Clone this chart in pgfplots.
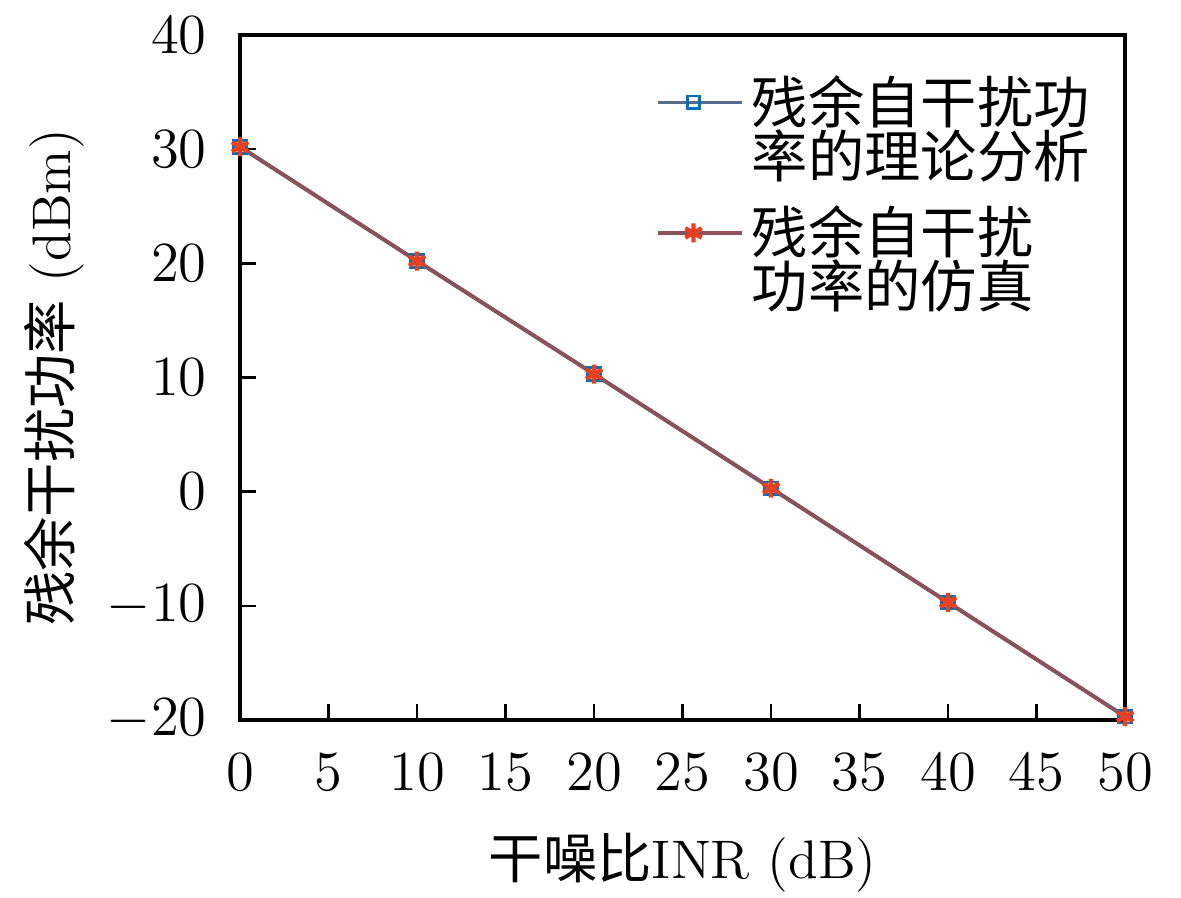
\documentclass[border=0pt]{standalone}
\usepackage{fontspec}
\usepackage{pgfplots}
\pgfplotsset{compat=1.18}
\newfontfamily\cjk{Noto Sans CJK SC}
\definecolor{mblue}{rgb}{0,0.447,0.741}
\definecolor{mred}{rgb}{0.90,0.25,0.12}
\definecolor{lineA}{rgb}{0.35,0.42,0.55}
\definecolor{lineB}{rgb}{0.55,0.32,0.36}
\newcommand{\fs}{\fontsize{13.8}{14}\selectfont}
\newcommand{\lfs}{\fontsize{14.3}{14.5}\selectfont}
\begin{document}
\begin{tikzpicture}
\begin{axis}[
  name=ax,
  scale only axis,
  width=224.8pt, height=174pt,
  xmin=0, xmax=50, ymin=-20, ymax=40,
  xtick={0,5,...,50}, ytick={-20,-10,...,40},
  tick pos=left, tick align=inside,
  major tick length=4pt,
  axis line style={line width=0.9pt},
  every tick/.style={line width=0.6pt},
  tick label style={font=\fs},
  xticklabel style={yshift=-5pt},
  yticklabel style={xshift=-5pt},
  xlabel={{\cjk 干噪比}INR (dB)},
  ylabel={{\cjk 残余干扰功率} (dBm)},
  label style={font=\fs},
  xlabel style={yshift=-4pt},
  ylabel style={yshift=-1pt},
  legend style={draw=none, fill=none, at={(0.983,0.965)}, anchor=north east,
    font=\lfs, row sep=15.5pt},
  legend cell align=left,
  legend image code/.code={\draw[#1] (0pt,0pt) -- (9pt,0pt) plot coordinates {(9pt,0pt)} -- (18pt,0pt);\path (18pt,0pt) -- (21.3pt,0pt);},
]
\addplot[color=lineA, line width=0.9pt, mark=square, mark size=1.6pt, mark options={draw=mblue, solid, line width=0.7pt}]
  coordinates {(0,30.2) (10,20.2) (20,10.3) (30,0.3) (40,-9.7) (50,-19.7)};
\addlegendentry{\cjk\begin{tabular}[t]{@{}l@{}}残余自干扰功\\[-2.8pt]率的理论分析\end{tabular}}
\addplot[color=lineB, line width=1.0pt, mark=asterisk, mark size=2.4pt, mark options={draw=mred, fill=mred, solid, line width=1.1pt}]
  coordinates {(0,30.2) (10,20.2) (20,10.3) (30,0.3) (40,-9.7) (50,-19.7)};
\addlegendentry{\cjk\begin{tabular}[t]{@{}l@{}}残余自干扰\\[-2.8pt]功率的仿真\end{tabular}}
\end{axis}
\pgfresetboundingbox
\path[use as bounding box] ([xshift=-61pt,yshift=-45.2pt]ax.south west) rectangle ([xshift=14.2pt,yshift=8.9pt]ax.north east);
\end{tikzpicture}
\end{document}
